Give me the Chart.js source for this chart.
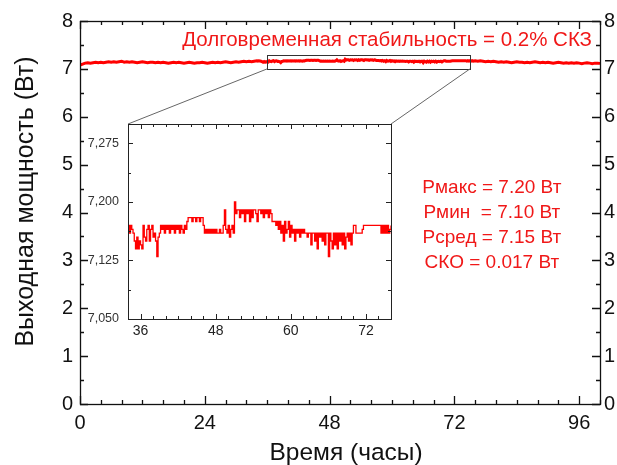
<!DOCTYPE html>
<html>
<head>
<meta charset="utf-8">
<script src="https://cdn.jsdelivr.net/npm/chart.js@4.4.0/dist/chart.umd.min.js"></script>
<style>
  html, body { margin: 0; padding: 0; background: #fff; }
  #wrap { position: relative; width: 617px; height: 465px; }
  #main { position: absolute; left: 0; top: 0; }
  #inset { position: absolute; left: 80px; top: 115px; }
</style>
</head>
<body>
<div id="wrap">
  <canvas id="main" width="617" height="465"></canvas>
  <canvas id="inset" width="320" height="225"></canvas>
</div>
<script>
// Output power (W) vs time (hours), sampled on a fixed grid per segment
const earlyStart = 0, earlyStep = 0.5;
const earlyPower = [
  7.08, 7.10, 7.12, 7.13, 7.12, 7.13, 7.14, 7.13, 7.14, 7.13,
  7.14, 7.15, 7.14, 7.15, 7.14, 7.15, 7.16, 7.14, 7.15, 7.14,
  7.15, 7.14, 7.13, 7.14, 7.15, 7.14, 7.13, 7.14, 7.14, 7.13,
  7.14, 7.13, 7.14, 7.13, 7.12, 7.13, 7.14, 7.13, 7.14, 7.13,
  7.12, 7.13, 7.14, 7.13, 7.12, 7.13, 7.13, 7.14, 7.13, 7.12,
  7.13, 7.14, 7.13, 7.14, 7.13, 7.14, 7.15, 7.14, 7.13, 7.14,
  7.15, 7.14, 7.15, 7.16, 7.15, 7.16, 7.15, 7.16
];

// zoomed part, 34 .. 76 h
const insetStart = 34, insetStep = 0.2;
const insetPower = [
  7.170, 7.160, 7.170, 7.165, 7.160,  // 34
  7.150, 7.140, 7.155, 7.140, 7.150,  // 35
  7.145, 7.140, 7.170, 7.155, 7.150,  // 36
  7.165, 7.170, 7.150, 7.165, 7.170,  // 37
  7.155, 7.160, 7.150, 7.130, 7.155,  // 38
  7.160, 7.170, 7.165, 7.170, 7.160,  // 39
  7.170, 7.165, 7.170, 7.160, 7.170,  // 40
  7.165, 7.170, 7.160, 7.170, 7.165,  // 41
  7.170, 7.160, 7.170, 7.165, 7.160,  // 42
  7.170, 7.165, 7.175, 7.180, 7.180,  // 43
  7.180, 7.175, 7.180, 7.180, 7.175,  // 44
  7.180, 7.180, 7.175, 7.180, 7.180,  // 45
  7.170, 7.160, 7.165, 7.160, 7.165,  // 46
  7.160, 7.165, 7.160, 7.165, 7.160,  // 47
  7.165, 7.160, 7.160, 7.165, 7.160,  // 48
  7.160, 7.170, 7.190, 7.165, 7.160,  // 49
  7.170, 7.155, 7.165, 7.170, 7.160,  // 50
  7.200, 7.185, 7.190, 7.190, 7.180,  // 51
  7.190, 7.185, 7.190, 7.175, 7.190,  // 52
  7.185, 7.190, 7.175, 7.190, 7.180,  // 53
  7.190, 7.190, 7.185, 7.175, 7.190,  // 54
  7.190, 7.185, 7.190, 7.180, 7.190,  // 55
  7.185, 7.190, 7.180, 7.190, 7.185,  // 56
  7.175, 7.175, 7.175, 7.170, 7.175,  // 57
  7.165, 7.175, 7.160, 7.170, 7.150,  // 58
  7.175, 7.160, 7.165, 7.175, 7.155,  // 59
  7.170, 7.160, 7.165, 7.150, 7.165,  // 60
  7.160, 7.165, 7.155, 7.165, 7.160,  // 61
  7.165, 7.160, 7.160, 7.155, 7.160,  // 62
  7.160, 7.145, 7.160, 7.160, 7.150,  // 63
  7.160, 7.140, 7.160, 7.155, 7.160,  // 64
  7.150, 7.160, 7.145, 7.160, 7.160,  // 65
  7.130, 7.160, 7.150, 7.140, 7.160,  // 66
  7.145, 7.160, 7.140, 7.160, 7.150,  // 67
  7.160, 7.145, 7.160, 7.140, 7.155,  // 68
  7.160, 7.150, 7.160, 7.145, 7.160,  // 69
  7.170, 7.170, 7.160, 7.160, 7.160,  // 70
  7.160, 7.160, 7.165, 7.170, 7.170,  // 71
  7.170, 7.170, 7.170, 7.170, 7.170,  // 72
  7.170, 7.170, 7.170, 7.170, 7.170,  // 73
  7.170, 7.170, 7.160, 7.170, 7.160,  // 74
  7.170, 7.160, 7.170, 7.160, 7.165,  // 75
  7.170
];

const lateStart = 76.5, lateStep = 0.5;
const latePower = [
  7.16, 7.17, 7.16, 7.15, 7.16, 7.15, 7.16, 7.15,
  7.14, 7.15, 7.14, 7.15, 7.14, 7.13, 7.14, 7.15, 7.14, 7.14,
  7.13, 7.14, 7.13, 7.14, 7.15, 7.14, 7.13, 7.14, 7.13, 7.14,
  7.13, 7.12, 7.13, 7.14, 7.13, 7.12, 7.13, 7.12, 7.13, 7.12,
  7.13, 7.12, 7.11, 7.12, 7.13, 7.12, 7.11, 7.12, 7.12, 7.11
];

// tick labels
const xTicks = [0, 24, 48, 72, 96];
const yTicks = [0, 1, 2, 3, 4, 5, 6, 7, 8];
const insetXTicks = [36, 48, 60, 72];
const insetYTicks = [7.05, 7.125, 7.2, 7.275];

// texts
const xTitle = "Время (часы)";
const yTitle = "Выходная мощность (Вт)";
const stabilityText = "Долговременная стабильность = 0.2% СКЗ";
const statsLines = ["Рмакс = 7.20 Вт", "Рмин  = 7.10 Вт", "Рсред = 7.15 Вт", "СКО = 0.017 Вт"];

// zoom window shown in the inset
const zoomX = [36, 75];
const zoomY = [7.0, 7.3];

function toPoints(start, step, values) {
  return values.map((v, i) => ({ x: +(start + i * step).toFixed(2), y: v }));
}

const insetPoints = toPoints(insetStart, insetStep, insetPower);
const allPoints = toPoints(earlyStart, earlyStep, earlyPower)
  .concat(insetPoints)
  .concat(toPoints(lateStart, lateStep, latePower));

const FONT = "'Liberation Sans', Arial, sans-serif";
Chart.defaults.font.family = FONT;

function setTicks(list) {
  return (scale) => { scale.ticks = list.map((v) => ({ value: v })); };
}

function noPad(scale) {
  scale.paddingTop = 0; scale.paddingBottom = 0;
  scale.paddingLeft = 0; scale.paddingRight = 0;
}

function minorList(from, to, step, majors) {
  const out = [];
  for (let v = from; v <= to + 1e-9; v += step) {
    if (!majors.some((m) => Math.abs(m - v) < 1e-6)) out.push(v);
  }
  return out;
}

// frame + inward ticks on all four sides
const frameTicks = {
  id: "frameTicks",
  afterDatasetsDraw(chart, args, opts) {
    const { ctx, chartArea: a, scales } = chart;
    const xs = scales.x, ys = scales.y;
    ctx.save();
    ctx.strokeStyle = opts.color;
    ctx.lineWidth = opts.lineWidth;
    ctx.strokeRect(Math.round(a.left) + 0.5, Math.round(a.top) + 0.5,
      Math.round(a.width), Math.round(a.height));
    ctx.beginPath();
    const xt = (vals, len) => vals.forEach((v) => {
      const px = Math.round(xs.getPixelForValue(v)) + 0.5;
      ctx.moveTo(px, a.bottom); ctx.lineTo(px, a.bottom - len);
      ctx.moveTo(px, a.top); ctx.lineTo(px, a.top + len);
    });
    const yt = (vals, len) => vals.forEach((v) => {
      const py = Math.round(ys.getPixelForValue(v)) + 0.5;
      ctx.moveTo(a.left, py); ctx.lineTo(a.left + len, py);
      ctx.moveTo(a.right, py); ctx.lineTo(a.right - len, py);
    });
    xt(opts.xMajor, opts.major); xt(opts.xMinor, opts.minor);
    yt(opts.yMajor, opts.major); yt(opts.yMinor, opts.minor);
    ctx.stroke();
    ctx.restore();
  }
};

// ---------- inset ----------
const insetCanvas = document.getElementById("inset");
const insetChart = new Chart(insetCanvas, {
  type: "line",
  data: {
    datasets: [{
      data: insetPoints,
      borderColor: "#ff0000",
      borderWidth: 1.3,
      pointRadius: 0,
      stepped: true
    }]
  },
  options: {
    responsive: false,
    animation: false,
    devicePixelRatio: 1,
    layout: { padding: { top: 9, right: 9, left: 0, bottom: 0 } },
    plugins: {
      legend: { display: false },
      tooltip: { enabled: false },
      frameTicks: {
        color: "#222", lineWidth: 1, major: 5, minor: 3,
        xMajor: insetXTicks, xMinor: minorList(34, 76, 2, insetXTicks),
        yMajor: insetYTicks, yMinor: minorList(7.0875, 7.3, 0.075, [])
      }
    },
    scales: {
      x: {
        type: "linear", min: 34, max: 76,
        afterBuildTicks: setTicks(insetXTicks),
        afterFit: (s) => { s.height = 21; noPad(s); },
        grid: { display: false, drawTicks: false },
        border: { display: false },
        ticks: { color: "#222", font: { size: 14 }, padding: 4, maxRotation: 0 }
      },
      y: {
        min: 7.05, max: 7.3,
        afterBuildTicks: setTicks(insetYTicks),
        afterFit: (s) => { s.width = 48; noPad(s); },
        grid: { display: false, drawTicks: false },
        border: { display: false },
        ticks: {
          color: "#333", font: { size: 12.5 }, padding: 9,
          callback: (v) => v.toFixed(3).replace(".", ",")
        }
      }
    }
  },
  plugins: [frameTicks]
});

// zoom box, connectors, axis titles and red notes on the main chart
const notes = {
  id: "notes",
  afterDatasetsDraw(chart) {
    const { ctx, chartArea: a, scales: { x, y } } = chart;
    ctx.save();
    const l = x.getPixelForValue(zoomX[0]), r = x.getPixelForValue(zoomX[1]);
    const t = y.getPixelForValue(zoomY[1]), b = y.getPixelForValue(zoomY[0]);
    ctx.strokeStyle = "#333";
    ctx.lineWidth = 1;
    ctx.strokeRect(Math.round(l) + 0.5, Math.round(t) + 0.5, Math.round(r - l), Math.round(b - t));
    const ia = insetChart.chartArea;
    const ox = insetCanvas.offsetLeft, oy = insetCanvas.offsetTop;
    ctx.strokeStyle = "#666";
    ctx.beginPath();
    ctx.moveTo(l, b); ctx.lineTo(ox + ia.left, oy + ia.top);
    ctx.moveTo(r, b); ctx.lineTo(ox + ia.right, oy + ia.top);
    ctx.stroke();

    // axis titles
    ctx.fillStyle = "#111";
    ctx.textAlign = "center";
    ctx.textBaseline = "middle";
    ctx.font = "24.5px " + FONT;
    ctx.fillText(xTitle, (a.left + a.right) / 2 + 6, a.bottom + 49);
    ctx.save();
    ctx.translate(26.5, (a.top + a.bottom) / 2 - 11);
    ctx.rotate(-Math.PI / 2);
    ctx.font = "25px " + FONT;
    ctx.fillText(yTitle, 0, 0);
    ctx.restore();

    ctx.fillStyle = "#f01818";
    ctx.font = "20.5px " + FONT;
    ctx.textAlign = "right";
    ctx.fillText(stabilityText, a.right - 8, y.getPixelForValue(7.6));
    ctx.font = "19px " + FONT;
    ctx.textAlign = "center";
    statsLines.forEach((s, i) => {
      ctx.fillText(s, x.getPixelForValue(79.2), y.getPixelForValue(4.51 - i * 0.52));
    });
    ctx.restore();
  }
};

// ---------- main ----------
new Chart(document.getElementById("main"), {
  type: "line",
  data: {
    datasets: [{
      data: allPoints,
      borderColor: "#ff0000",
      borderWidth: 3,
      pointRadius: 0,
      tension: 0
    }]
  },
  options: {
    responsive: false,
    animation: false,
    devicePixelRatio: 1,
    layout: { padding: 0 },
    plugins: {
      legend: { display: false },
      tooltip: { enabled: false },
      frameTicks: {
        color: "#111", lineWidth: 1.3, major: 8, minor: 4,
        xMajor: xTicks, xMinor: minorList(0, 100, 4, xTicks),
        yMajor: yTicks, yMinor: minorList(0.5, 8, 1, [])
      }
    },
    scales: {
      x: {
        type: "linear", position: "bottom", min: 0, max: 100,
        afterBuildTicks: setTicks(xTicks),
        afterFit: (s) => { s.height = 61; },
        grid: { display: false, drawTicks: false },
        border: { display: false },
        ticks: { color: "#111", font: { size: 20 }, padding: 7, maxRotation: 0 }
      },
      x2: {
        type: "linear", position: "top", min: 0, max: 100,
        afterFit: (s) => { s.height = 21; },
        grid: { display: false, drawTicks: false },
        border: { display: false },
        ticks: { display: false }
      },
      y: {
        position: "left", min: 0, max: 8,
        afterBuildTicks: setTicks(yTicks),
        afterFit: (s) => { s.width = 80; },
        grid: { display: false, drawTicks: false },
        border: { display: false },
        ticks: { color: "#111", font: { size: 20 }, padding: 7 }
      },
      y2: {
        position: "right", min: 0, max: 8,
        afterBuildTicks: setTicks(yTicks),
        afterFit: (s) => { s.width = 17; },
        grid: { display: false, drawTicks: false },
        border: { display: false },
        ticks: { color: "#111", font: { size: 20 }, padding: 4 }
      }
    }
  },
  plugins: [frameTicks, notes]
});
</script>
</body>
</html>
